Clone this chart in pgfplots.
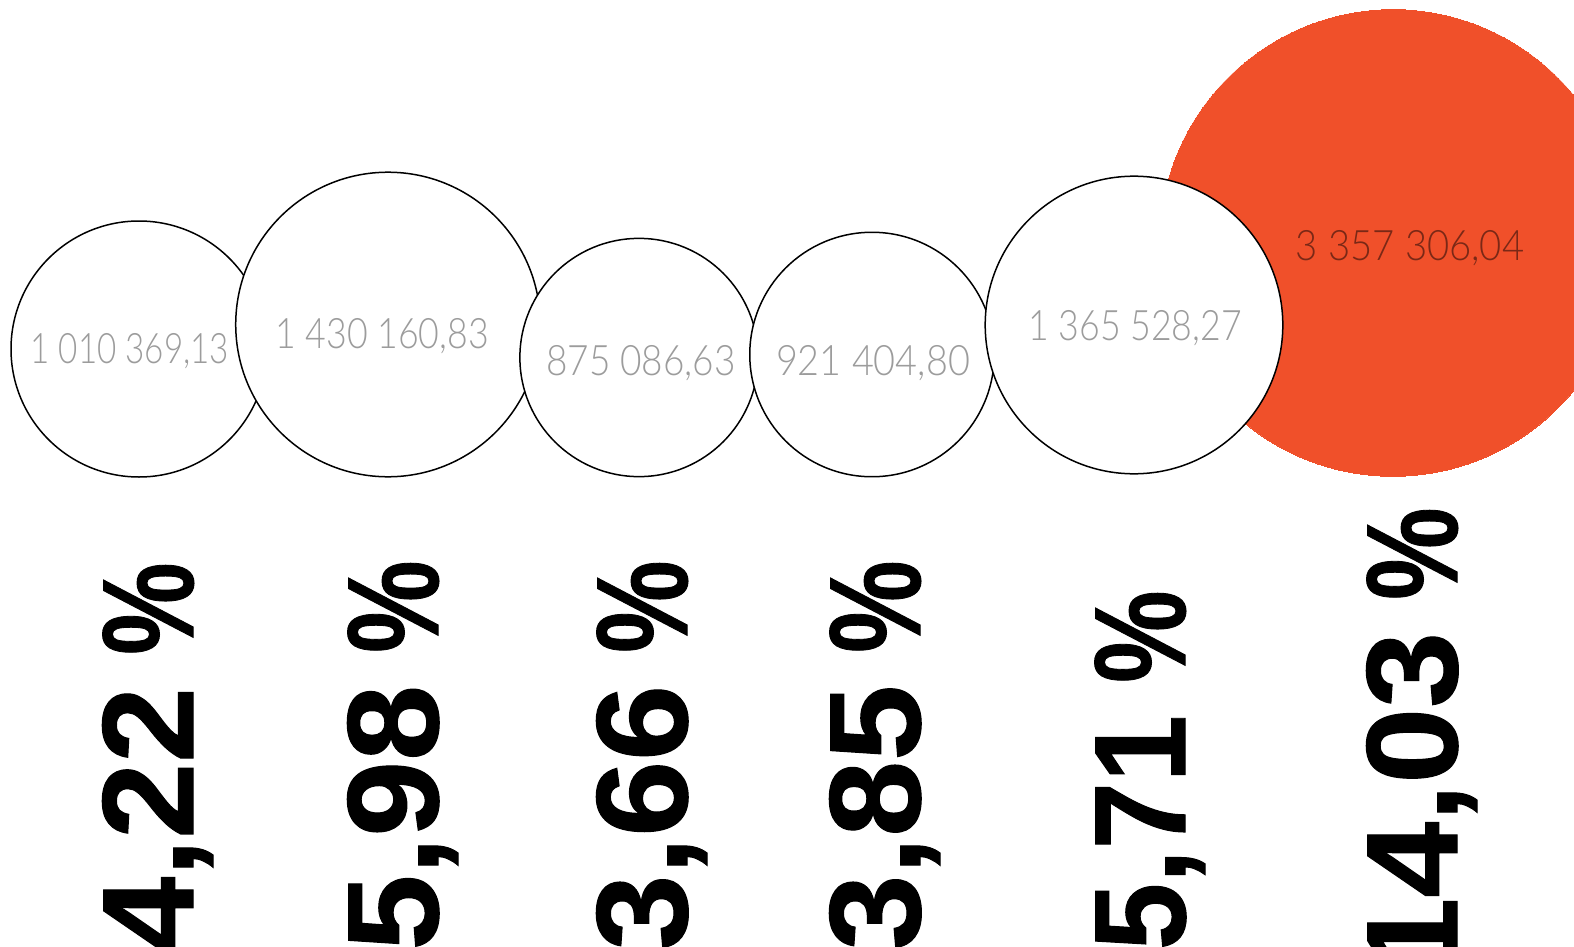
\documentclass[border=0pt]{standalone}
\usepackage{pgfplots}
\pgfplotsset{compat=1.18}
\usepackage{pgfplotstable}
\usepackage{graphicx}
\usepackage{fontspec}
\setmainfont{Liberation Sans}
\newfontfamily\heavy{Liberation Sans Bold}[FakeBold=0.8]
\newfontfamily\thinfont{Lato Light}
\definecolor{bubbleorange}{HTML}{F0502A}
\definecolor{valgray}{HTML}{9C9C9C}
\definecolor{valdark}{HTML}{7A2816}

% bubble centres in px (from top left), value in thousands
\pgfplotstableread{
x    y     v
139  349   1010.36913
388  324.5 1430.16083
639  357.5 875.08663
872  354.5 921.40480
1134 325   1365.52827
}\whitebubbles
\pgfplotstableread{
x    y     v
1393 243   3357.30604
}\redbubble

\newcommand{\vlab}[4][valgray]{%
  \node[anchor=base, inner sep=0pt, text=#1, font=\thinfont\fontsize{21}{21}\selectfont]
    at (#2) {\scalebox{#3}[1]{#4}};}
\newcommand{\plab}[3][1.05]{%
  \node[rotate=90, anchor=base east, inner sep=0pt, font=\heavy\fontsize{65}{65}\selectfont]
    at (axis cs:#2) {\scalebox{#1}[1]{#3}\hspace{16pt}\scalebox{0.8}[1]{\%}};}

\begin{document}
\begin{tikzpicture}
\begin{axis}[
    x=0.5pt, y=0.5pt,
    xmin=0, xmax=1574, ymin=0, ymax=947,
    y dir=reverse,
    hide axis, clip=false,
    bubble/.style={
        scatter, only marks, mark=*, point meta=explicit symbolic,
        scatter/@pre marker code/.code={%
            \pgfkeys{/pgf/fpu=false}%
            \pgfmathsetmacro\rad{64*sqrt(\pgfplotspointmeta/1010.36913)}%
            \scope
            \pgfsetplotmarksize{\rad pt}},
        scatter/@post marker code/.code={\endscope}
    }
]
\coordinate (tl) at (axis cs:0,0);
\coordinate (br) at (axis cs:1574,947);

% big one behind
\addplot[bubble, mark options={draw=bubbleorange, fill=bubbleorange, line width=0pt}]
    table[x=x, y=y, meta=v] {\redbubble};
\addplot[bubble, mark options={draw=black, fill=white, line width=0.75pt}]
    table[x=x, y=y, meta=v] {\whitebubbles};

% anchors for the value texts (drawn after the axis, above the marks)
\coordinate (t1) at (axis cs:130,364);
\coordinate (t2) at (axis cs:382,349);
\coordinate (t3) at (axis cs:641,376);
\coordinate (t4) at (axis cs:873,376);
\coordinate (t5) at (axis cs:1135,341);
\coordinate (t6) at (axis cs:1410,261);

\plab{193,562}{4,22}
\plab{438,560}{5,98}
\plab{687,560}{3,66}
\plab{920,560}{3,85}
\plab[0.93]{1185,590}{5,71}
\plab{1457,507}{14,03}
\end{axis}
\vlab{t1}{0.79}{1 010 369,13}
\vlab{t2}{0.85}{1 430 160,83}
\vlab{t3}{0.88}{875 086,63}
\vlab{t4}{0.90}{921 404,80}
\vlab{t5}{0.85}{1 365 528,27}
\vlab[valdark]{t6}{0.91}{3 357 306,04}
\pgfresetboundingbox
\useasboundingbox (tl) rectangle (br);
\end{tikzpicture}
\end{document}
